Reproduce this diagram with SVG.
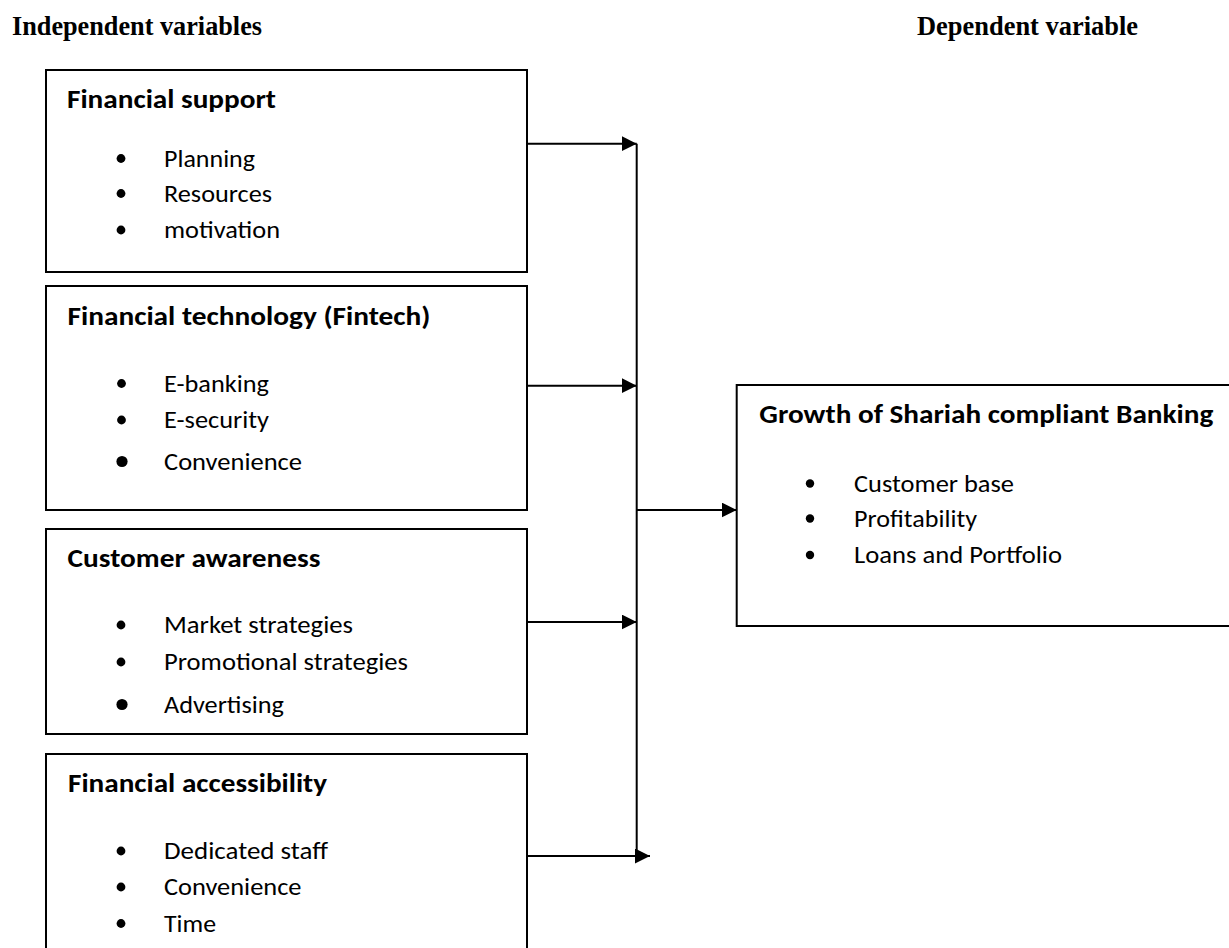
<svg xmlns="http://www.w3.org/2000/svg" width="1229" height="948" viewBox="0 0 1229 948">
  <style>
    .bg { fill: #ffffff; }
    .box { fill: #ffffff; stroke: #000000; stroke-width: 2; }
    .hdr { font-family: "Liberation Serif", "Times New Roman", serif; font-weight: bold; font-size: 26.5px; fill: #000; }
    .ttl { font-family: Carlito, Calibri, Lato, "Open Sans", sans-serif; font-weight: bold; font-size: 27px; fill: #000; }
    .itm { font-family: Carlito, Calibri, Lato, "Open Sans", sans-serif; font-size: 24px; fill: #000; }
    .dot { fill: #000; }
    .conn { fill: none; stroke: #000; stroke-width: 2; }
  </style>
  <defs>
    <marker id="arrow" markerUnits="userSpaceOnUse" markerWidth="16" markerHeight="16" refX="15" refY="7.5" orient="auto">
      <path d="M0,0 L15,7.5 L0,15 Z" fill="#000"/>
    </marker>
  </defs>
  <rect class="bg" x="0" y="0" width="1229" height="948"/>

  <g id="headers">
    <text class="hdr" x="12" y="35" textLength="250" lengthAdjust="spacingAndGlyphs">Independent variables</text>
    <text class="hdr" x="917" y="35" textLength="221" lengthAdjust="spacingAndGlyphs">Dependent variable</text>
  </g>

  <g id="financial-support">
    <rect class="box" x="46" y="70" width="481" height="202"/>
    <text class="ttl" x="67" y="108" textLength="209" lengthAdjust="spacingAndGlyphs">Financial support</text>
    <circle class="dot" cx="121" cy="158.5" r="4.4"/>
    <text class="itm" x="164" y="166.5" textLength="91" lengthAdjust="spacingAndGlyphs">Planning</text>
    <circle class="dot" cx="121" cy="193.5" r="4.4"/>
    <text class="itm" x="164" y="201.5" textLength="108" lengthAdjust="spacingAndGlyphs">Resources</text>
    <circle class="dot" cx="121" cy="230" r="4.4"/>
    <text class="itm" x="164" y="238" textLength="116" lengthAdjust="spacingAndGlyphs">motivation</text>
  </g>

  <g id="fintech">
    <rect class="box" x="46" y="286" width="481" height="224"/>
    <text class="ttl" x="67.5" y="325" textLength="363" lengthAdjust="spacingAndGlyphs">Financial technology (Fintech)</text>
    <circle class="dot" cx="121.5" cy="383.5" r="4.4"/>
    <text class="itm" x="164" y="391.5" textLength="105" lengthAdjust="spacingAndGlyphs">E-banking</text>
    <circle class="dot" cx="121.5" cy="420" r="4.4"/>
    <text class="itm" x="164" y="428" textLength="105" lengthAdjust="spacingAndGlyphs">E-security</text>
    <circle class="dot" cx="122" cy="461.5" r="5.6"/>
    <text class="itm" x="164" y="470" textLength="138" lengthAdjust="spacingAndGlyphs">Convenience</text>
  </g>

  <g id="customer-awareness">
    <rect class="box" x="46" y="529" width="481" height="205"/>
    <text class="ttl" x="67.5" y="566.5" textLength="253" lengthAdjust="spacingAndGlyphs">Customer awareness</text>
    <circle class="dot" cx="121" cy="625" r="4.4"/>
    <text class="itm" x="164" y="633" textLength="189" lengthAdjust="spacingAndGlyphs">Market strategies</text>
    <circle class="dot" cx="121" cy="662" r="4.4"/>
    <text class="itm" x="164" y="670" textLength="244" lengthAdjust="spacingAndGlyphs">Promotional strategies</text>
    <circle class="dot" cx="122" cy="704.5" r="5.6"/>
    <text class="itm" x="164" y="713" textLength="120" lengthAdjust="spacingAndGlyphs">Advertising</text>
  </g>

  <g id="financial-accessibility">
    <rect class="box" x="46" y="754" width="481" height="220"/>
    <text class="ttl" x="68" y="791.5" textLength="259" lengthAdjust="spacingAndGlyphs">Financial accessibility</text>
    <circle class="dot" cx="121" cy="851" r="4.4"/>
    <text class="itm" x="164" y="859" textLength="164" lengthAdjust="spacingAndGlyphs">Dedicated staff</text>
    <circle class="dot" cx="121" cy="887" r="4.4"/>
    <text class="itm" x="164" y="895" textLength="137.5" lengthAdjust="spacingAndGlyphs">Convenience</text>
    <circle class="dot" cx="121" cy="923.5" r="4.4"/>
    <text class="itm" x="164" y="931.5" textLength="52" lengthAdjust="spacingAndGlyphs">Time</text>
  </g>

  <g id="growth">
    <rect class="box" x="736.7" y="385" width="520" height="241"/>
    <text class="ttl" x="759.3" y="423" textLength="454" lengthAdjust="spacingAndGlyphs">Growth of Shariah compliant Banking</text>
    <circle class="dot" cx="810" cy="483.5" r="4.2"/>
    <text class="itm" x="854" y="491.5" textLength="160" lengthAdjust="spacingAndGlyphs">Customer base</text>
    <circle class="dot" cx="810" cy="518.5" r="4.2"/>
    <text class="itm" x="854" y="526.5" textLength="123" lengthAdjust="spacingAndGlyphs">Profitability</text>
    <circle class="dot" cx="810" cy="555" r="4.2"/>
    <text class="itm" x="854" y="563" textLength="208" lengthAdjust="spacingAndGlyphs">Loans and Portfolio</text>
  </g>

  <g id="connectors">
    <path class="conn" d="M636.7,143.7 V856" stroke-width="1.6"/>
    <path class="conn" d="M527,143.7 H636.7" marker-end="url(#arrow)"/>
    <path class="conn" d="M527,385.7 H636.7" marker-end="url(#arrow)"/>
    <path class="conn" d="M527,622 H636.7" marker-end="url(#arrow)"/>
    <path class="conn" d="M527,856 H650" marker-end="url(#arrow)"/>
    <path class="conn" d="M636.7,510 H736.7" marker-end="url(#arrow)"/>
  </g>
</svg>
